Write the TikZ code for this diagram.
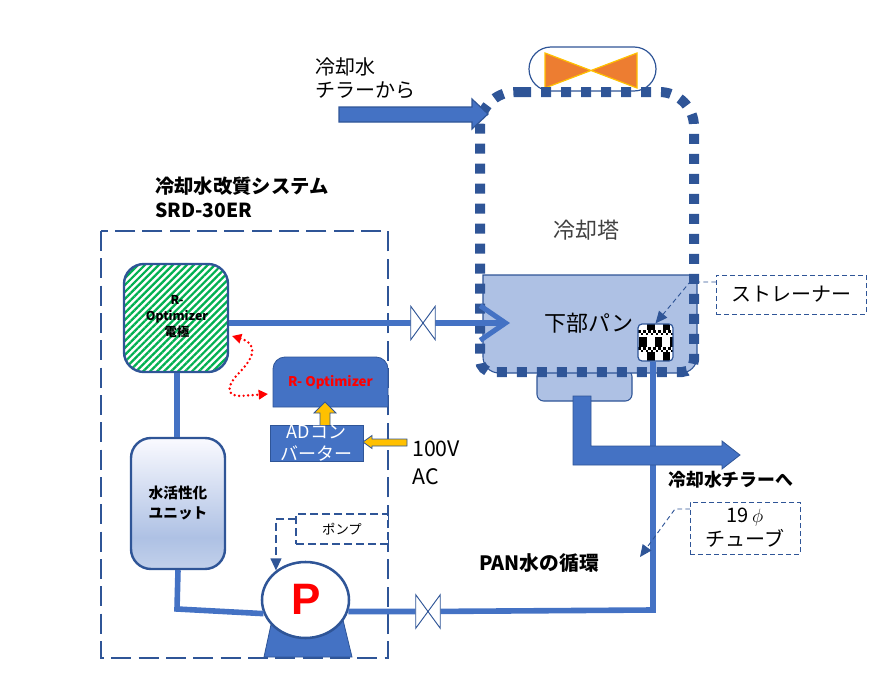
\documentclass[tikz,border=0pt]{standalone}
\usepackage{fontspec}
\setmainfont{Noto Sans CJK JP}
\usetikzlibrary{arrows.meta,patterns.meta,shapes.geometric}
\def\px{0.75pt}
\definecolor{pipeblue}{HTML}{4472C4}
\definecolor{edgeblue}{HTML}{2F5597}
\definecolor{panblue}{HTML}{AEC1E4}
\definecolor{stripegreen}{HTML}{00B050}
\definecolor{fanorange}{HTML}{ED7D31}
\definecolor{signyellow}{HTML}{FFC000}
\pgfdeclareverticalshading{unitshade}{100bp}{color(0bp)=(panblue!75!white); color(25bp)=(panblue!75!white); color(37bp)=(panblue); color(75bp)=(blue!2!white); color(100bp)=(blue!2!white)}
\tikzset{
  pipe/.style={line width=4.2pt,draw=pipeblue},
  valvebox/.style={inner sep=0pt,minimum width=24*\px,minimum height=33*\px},
  callbox/.style={draw=edgeblue,fill=white,line width=0.7pt,dash pattern=on 3.5pt off 2.5pt,inner sep=0pt},
  callline/.style={draw=edgeblue,line width=0.7pt,dash pattern=on 3.5pt off 2.5pt,-{Triangle[length=9pt,width=8pt]}},
  blockbox/.style={draw=edgeblue,line width=1.8pt,rounded corners=15pt,inner sep=0pt},
  yellowarrow/.style={draw=edgeblue,fill=signyellow,line width=0.6pt},
  labeltext/.style={inner sep=0pt,align=left,anchor=west}
}
\begin{document}
\begin{tikzpicture}[x=\px,y=-\px]
  \useasboundingbox (0,0) rectangle (894,675);

  \draw[edgeblue,line width=2.2pt,dash pattern=on 15pt off 5.5pt] (101,231) rectangle (388,658);

  \fill[panblue,draw=edgeblue,line width=0.8pt,rounded corners=5pt] (537,370) rectangle (632,401);
  \draw[fill=panblue,draw=edgeblue,line width=0.8pt] (483,275) -- (697,275) [rounded corners=12pt] -- (697,373) -- (483,373) [sharp corners] -- cycle;
  \node[inner sep=0pt,font=\fontsize{16.5}{20}\selectfont] (pantext) at (589,323) {下部パン};
  \node[inner sep=0pt,font=\fontsize{16.5}{20}\selectfont,text=black!75] (towertext) at (586,230) {冷却塔};

  \fill[white,rounded corners=3pt] (638,324) rectangle (673,361);
  \begin{scope}
    \clip[rounded corners=3pt] (638,324) rectangle (673,361);
    \foreach \x in {647,662.5} {
      \fill[black] (\x,324) rectangle ++(7.5,6);
      \fill[black] (\x,352) rectangle ++(7.5,9);
    }
    \foreach \x in {639,654.5,670} {
      \fill[black] (\x,337) rectangle ++(7.5,10);
    }
    \foreach \y in {330,347} {
      \foreach \x in {0,...,6} {
        \fill[black] (638+5*\x,\y) rectangle ++(2.5,2.5);
        \fill[black] (640.5+5*\x,\y+2.5) rectangle ++(2.5,2.5);
      }
    }
  \end{scope}
  \node[draw=edgeblue,line width=0.9pt,rounded corners=3pt,inner sep=0pt,minimum width=35*\px,minimum height=37*\px] (strainer) at (655.5,342.5) {};

  \node[draw=edgeblue,line width=0.9pt,rounded corners=16.5pt,inner sep=0pt,minimum width=127*\px,minimum height=44*\px] (fan) at (592.5,69) {};
  \draw[fill=fanorange,draw=signyellow,line width=0.9pt] (545,53) -- (637,88) -- (637,53) -- (545,88) -- cycle;

  \draw[edgeblue,line width=7.5pt,dash pattern=on 7.5pt off 7.5pt] (521,92) [rounded corners=26pt] -- (694,92) -- (694,300) [rounded corners=9pt] -- (694,372) -- (480,372) [rounded corners=26pt] -- (480,92) -- (521,92);

  \draw[fill=pipeblue,draw=edgeblue,line width=0.9pt] (339,107) -- (472,107) -- (472,99) -- (488,114) -- (472,129) -- (472,122) -- (339,122) -- cycle;

  \node[blockbox,preaction={fill=white},pattern={Lines[angle=45,distance=3.7pt,line width=1.7pt]},pattern color=stripegreen,minimum width=104*\px,minimum height=108*\px] (electrode) at (176,318) {};
  \node[align=center,inner sep=0pt,font=\fontsize{9.2}{12}\selectfont\bfseries] (electrodetext) at (177,317) {R-\\Optimizer\\電極};

  \node[blockbox,shading=unitshade,minimum width=94*\px,minimum height=131*\px] (unit) at (178,503.5) {};
  \node[align=center,inner sep=0pt,font=\fontsize{11}{14.5}\selectfont\bfseries] (unittext) at (178,503) {水活性化\\ユニット};

  \draw[fill=pipeblue,draw=edgeblue,line width=0.6pt] (272,620) -- (343,620) -- (352,657) -- (264,657) -- cycle;
  \node[draw=edgeblue,fill=white,line width=1.9pt,ellipse,inner sep=0pt,minimum width=87*\px,minimum height=76*\px] (pump) at (305.5,600) {};
  \node[inner sep=0pt,text=red,font=\fontsize{33}{33}\selectfont\fontspec{Liberation Sans}\bfseries] (pumptext) at (306,599) {P};

  \draw[fill=pipeblue,draw=edgeblue,line width=0.6pt] (273,407) [rounded corners=9pt] -- (273,357) -- (388,357) [sharp corners] -- (388,407) -- cycle;
  \node[inner sep=0pt,text=red,font=\fontsize{10}{12}\selectfont\bfseries] (ropt) at (330.5,382) {R- Optimizer};

  \draw[yellowarrow] (320,430) -- (320,413) -- (314,413) -- (325,402) -- (336,413) -- (330,413) -- (330,430) -- cycle;
  \node[draw=edgeblue,fill=pipeblue,line width=0.6pt,inner sep=0pt,minimum width=93*\px,minimum height=36*\px,align=center,text=white,font=\fontsize{13.5}{16.5}\selectfont] (adbox) at (316.5,443) {ADコン\\バーター};
  \draw[yellowarrow] (407,439) -- (372,439) -- (372,435.5) -- (363,442) -- (372,448.5) -- (372,446) -- (407,446) -- cycle;

  \node[valvebox] (valvetop) at (423,323) {};
  \node[valvebox] (valvebottom) at (428,611.5) {};
  \coordinate (panin) at (510,323);
  \coordinate (pipebend) at (177,609);
  \coordinate (pipecorner) at (653,610);

  \draw[pipe] (electrode.east |- valvetop) -- (valvetop);
  \draw[pipe,-{Straight Barb[length=19pt,width=26pt,line width=3.8pt]}] (valvetop) -- (panin);
  \draw[pipe] (electrode.south -| pipebend) -- (unit.north -| pipebend);
  \draw[pipe] (unit.south) -- (pipebend) -- (pump.198);
  \draw[pipe] (pump.-15) -- (valvebottom);
  \draw[pipe] (valvebottom) -- (pipecorner) -- (pipecorner |- strainer.south);
  \foreach \v in {valvetop,valvebottom} {
    \draw[edgeblue,fill=white,line width=0.7pt] (\v.north west) -- (\v.south east) -- (\v.north east) -- (\v.south west) -- cycle;
  }

  \fill[pipeblue,draw=edgeblue,line width=0.6pt] (573,396) -- (591,396) -- (591,446) -- (722,446) -- (722,441) -- (740,455) -- (722,469) -- (722,465) -- (573,465) -- cycle;

  \coordinate (redstart) at (232,336);
  \coordinate (redend) at (268,394);
  \draw[red,line width=2pt,line cap=round,dash pattern=on 0pt off 3.4pt,{Triangle[length=7pt,width=7pt]}-{Triangle[length=7pt,width=7pt]}] (redstart) .. controls (262,345) and (250,362) .. (238,374) .. controls (225,388) and (228,396) .. (240,396) -- (redend);

  \node[callbox,minimum width=150*\px,minimum height=39*\px,font=\fontsize{15}{18}\selectfont] (strainerlabel) at (791,294.5) {ストレーナー};
  \coordinate (strainercall) at (716,282);
  \draw[callline] (strainercall) -- (690,282) -- (strainer.north);

  \node[callbox,line width=1.4pt,dash pattern=on 6pt off 3pt,minimum width=92*\px,minimum height=30*\px,font=\fontsize{10}{12}\selectfont] (pumplabel) at (342,529) {ポンプ};
  \coordinate (pumpcall) at (296,519);
  \draw[callline,line width=1.4pt,dash pattern=on 6pt off 3pt] (pumpcall) -| (pump.135);

  \node[callbox,minimum width=110*\px,minimum height=52*\px,align=center,font=\fontsize{15}{18}\selectfont] (tubelabel) at (745,528) {19\,$\phi$\\チューブ};
  \coordinate (tubecall) at (690,509);
  \coordinate (tubetip) at (640,557);
  \draw[callline] (tubecall) -- (675,509) -- (tubetip);

  \node[labeltext,font=\fontsize{15}{17.5}\selectfont] (cooltext) at (315,78) {冷却水\\チラーから};
  \node[labeltext,font=\fontsize{14.5}{18}\selectfont\bfseries] (systemtext) at (155,197) {冷却水改質システム\\SRD-30ER};
  \node[labeltext,font=\fontsize{16}{21}\selectfont] (actext) at (412,463) {100V\\AC};
  \node[labeltext,font=\fontsize{13.4}{16}\selectfont\bfseries] (chillertext) at (668,480) {冷却水チラーへ};
  \node[labeltext,font=\fontsize{14.8}{17}\selectfont\bfseries] (pantitle) at (479,563) {PAN水の循環};
\end{tikzpicture}
\end{document}
